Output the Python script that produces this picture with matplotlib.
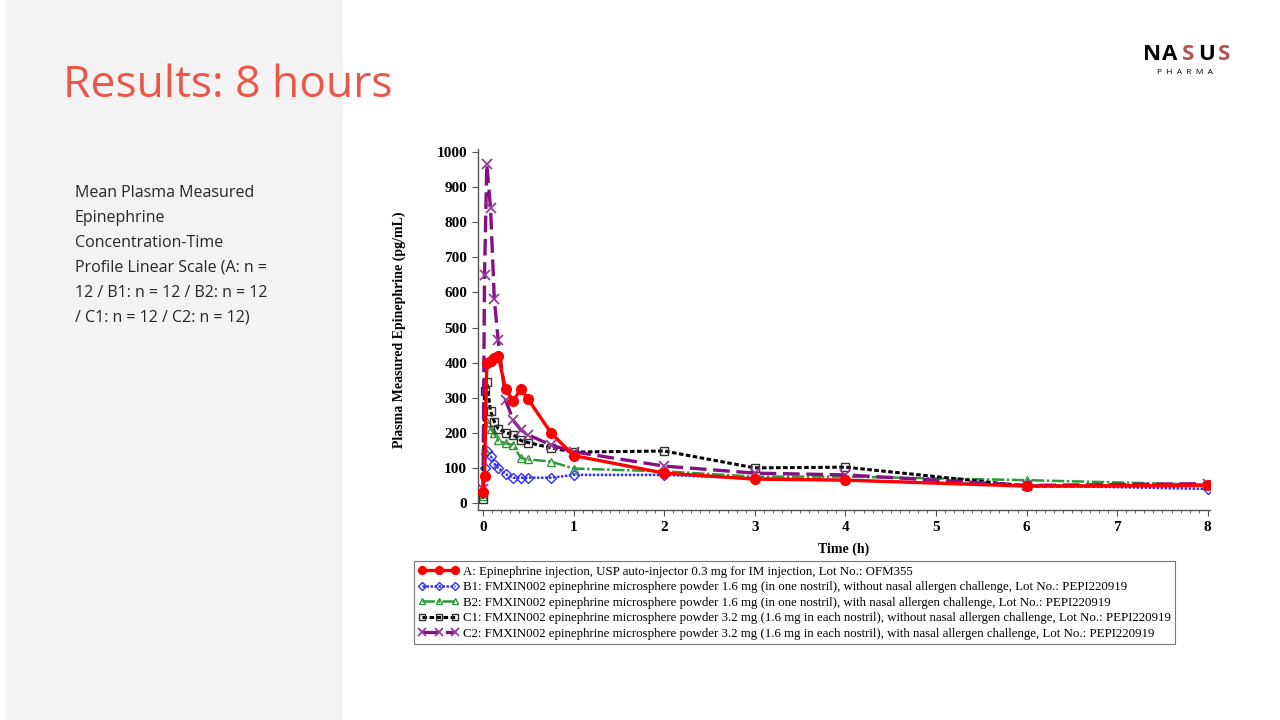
import matplotlib
matplotlib.use('Agg')
import matplotlib.pyplot as plt
from matplotlib.patches import Rectangle
from matplotlib.ticker import MultipleLocator

# sampling times (h) and mean concentrations (pg/mL)
t_h = [0, 0.0167, 0.042, 0.083, 0.125, 0.167, 0.25, 0.333, 0.417, 0.5, 0.75, 1, 2, 3, 4, 6, 8]
conc_A = [32, 78, 400, 405, 412, 420, 325, 290, 325, 295, 200, 135, 85, 68, 65, 48, 50]
conc_B1 = [30, 100, 148, 135, 112, 100, 82, 72, 72, 72, 72, 80, 80, 70, 65, 50, 40]
conc_B2 = [20, 150, 232, 212, 198, 178, 170, 165, 128, 124, 118, 98, 90, 75, 75, 65, 52]
conc_C1 = [12, 320, 345, 262, 232, 212, 200, 195, 178, 172, 157, 145, 148, 100, 102, 48, 50]
conc_C2 = [40, 650, 965, 840, 580, 465, 293, 236, 208, 194, 165, 146, 105, 85, 80, 50, 55]

labels = [
    "A: Epinephrine injection, USP auto-injector 0.3 mg for IM injection, Lot No.: OFM355",
    "B1: FMXIN002 epinephrine microsphere powder 1.6 mg (in one nostril), without nasal allergen challenge, Lot No.: PEPI220919",
    "B2: FMXIN002 epinephrine microsphere powder 1.6 mg (in one nostril), with nasal allergen challenge, Lot No.: PEPI220919",
    "C1: FMXIN002 epinephrine microsphere powder 3.2 mg (1.6 mg in each nostril), without nasal allergen challenge, Lot No.: PEPI220919",
    "C2: FMXIN002 epinephrine microsphere powder 3.2 mg (1.6 mg in each nostril), with nasal allergen challenge, Lot No.: PEPI220919",
]

serif = ['Liberation Serif', 'DejaVu Serif']
sans = ['Open Sans', 'Noto Sans', 'DejaVu Sans']

fig = plt.figure(figsize=(12.8, 7.2), dpi=100)
fig.patch.set_facecolor('white')

# grey side panel
fig.patches.append(Rectangle((5 / 1280, 0), 338 / 1280, 1, transform=fig.transFigure,
                             facecolor='#f3f3f3', edgecolor='none', zorder=0))

fig.text(63 / 1280, 1 - 86 / 720, "Results: 8 hours", color='#e9564a', fontsize=32,
         family=sans, va='center', ha='left')

body = ["Mean Plasma Measured", "Epinephrine", "Concentration-Time",
        "Profile Linear Scale (A: n =", "12 / B1: n = 12 / B2: n = 12",
        "/ C1: n = 12 / C2: n = 12)"]
for i, line in enumerate(body):
    fig.text(75 / 1280, 1 - (193 + 25 * i) / 720, line, color='#262626', fontsize=11.5,
             family=sans, va='center', ha='left')

# logo
logo_parts = [("N", 'black'), ("A", 'black'), ("S", '#b5524e'), ("U", 'black'), ("S", '#b5524e')]
for i, (ch, col) in enumerate(logo_parts):
    fig.text((1152 + 18 * i) / 1280, 1 - 54 / 720, ch, color=col, fontsize=16,
             fontweight='bold', family=sans, va='center', ha='center')
fig.text(1185 / 1280, 1 - 73 / 720, "P  H  A  R  M  A", color='black', fontsize=6,
         family=sans, va='center', ha='center')

ax = fig.add_axes([0.3731, 0.2917, 0.5719, 0.502])
ax.set_facecolor('white')

ax.plot(t_h, conc_A, color='#ff0000', lw=2.4, ls='-', marker='o', ms=7,
        mfc='#ff0000', mec='#ff0000', label=labels[0], zorder=5)
ax.plot(t_h, conc_B1, color='#2f2fff', lw=1.8, ls=(0, (1, 0.6)), marker='D', ms=5,
        mfc='none', mec='#2f2fff', mew=1.0, label=labels[1], zorder=4)
ax.plot(t_h, conc_B2, color='#2e9a3a', lw=1.8, ls=(0, (5, 1, 1, 1)), marker='^', ms=6,
        mfc='none', mec='#2e9a3a', mew=1.0, label=labels[2], zorder=4)
ax.plot(t_h, conc_C1, color='black', lw=2.2, ls=(0, (1.5, 0.8)), marker='s', ms=6,
        mfc='none', mec='#333333', mew=1.0, label=labels[3], zorder=4)
ax.plot(t_h, conc_C2, color='#850f85', lw=2.4, ls=(0, (5, 2)), marker='x', ms=7,
        mec='#9a3a9a', mew=1.3, label=labels[4], zorder=4)

ax.set_xlim(-0.06, 8.02)
ax.set_ylim(-20, 1010)
ax.xaxis.set_major_locator(MultipleLocator(1))
ax.xaxis.set_minor_locator(MultipleLocator(0.1))
ax.yaxis.set_major_locator(MultipleLocator(100))
for s in ['top', 'right']:
    ax.spines[s].set_visible(False)
for s in ['left', 'bottom']:
    ax.spines[s].set_color('#555555')
    ax.spines[s].set_linewidth(1.0)
ax.tick_params(which='major', direction='out', length=4, color='#555555', labelsize=11)
ax.tick_params(which='minor', direction='out', length=2, color='#555555')
ax.tick_params(axis='x', pad=4)
for lab in ax.get_xticklabels() + ax.get_yticklabels():
    lab.set_family(serif)
    lab.set_fontweight('bold')

ax.set_xlabel("Time (h)", family=serif, fontweight='bold', fontsize=10, labelpad=6)
ax.set_ylabel("Plasma Measured Epinephrine (pg/mL)", family=serif, fontweight='bold',
              fontsize=10, labelpad=22)

leg = ax.legend(loc='upper left', bbox_to_anchor=(414 / 1280, 1 - 561 / 720),
                bbox_transform=fig.transFigure, numpoints=3, handlelength=3.1,
                handletextpad=0.35, labelspacing=0.27, borderpad=0.35, borderaxespad=0,
                markerscale=0.8, fancybox=False, framealpha=1, edgecolor='#777777',
                prop={'family': serif, 'size': 9.3})
leg.get_frame().set_linewidth(0.8)

plt.savefig('out.png', dpi=100)
